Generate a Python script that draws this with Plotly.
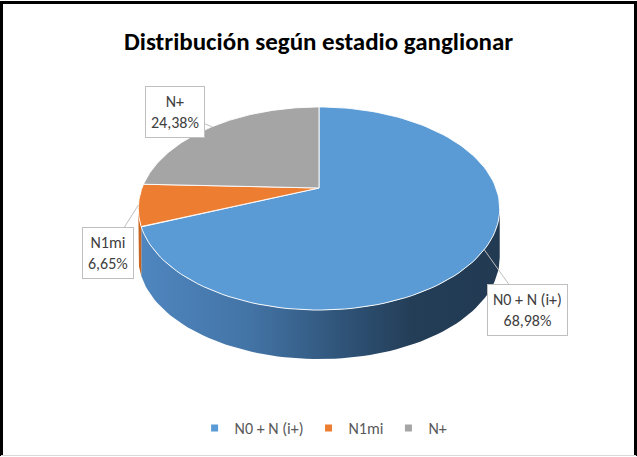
import numpy as np
import plotly.graph_objects as go

# ---- data ----
categories = ["N0 + N (i+)", "N1mi", "N+"]
values = [68.98, 6.65, 24.38]
label_texts = ["68,98%", "6,65%", "24,38%"]
colors = ["#5b9bd5", "#ed7d31", "#a5a5a5"]
title_text = "Distribución según estadio ganglionar"

# ---- geometry (pixel space, perspective ellipse) ----
W, H = 637, 457
cx, cy = 319.0, 188.0
rx, ry = 177.0, 97.4
k = 0.202
depth = 49.0

def proj(theta_deg, dy=0.0):
    t = np.radians(theta_deg)
    u = np.sin(t)
    v = -np.cos(t)
    den = 1 - k * v
    return cx + rx * u / den, cy + ry * v / den + dy

total = sum(values)
bounds = [0.0]
for val in values:
    bounds.append(bounds[-1] + 360.0 * val / total)

th_right = np.degrees(np.arccos(-k))          # right tangent
th_left = 360.0 - th_right                     # left tangent

fig = go.Figure()

FONT = "Carlito, 'Liberation Sans Narrow', 'Open Sans', sans-serif"

# ---- side walls ----
def side_trace(a0, a1, **kw):
    th = np.linspace(a0, a1, 80)
    xt, yt = proj(th)
    xb, yb = proj(th[::-1], depth)
    xs = np.concatenate([xt, xb, xt[:1]])
    ys = np.concatenate([yt, yb, yt[:1]])
    return go.Scatter(x=xs, y=ys, mode="lines", fill="toself",
                      line=dict(width=0, color="rgba(0,0,0,0)"),
                      hoverinfo="skip", showlegend=False, **kw)

a0 = max(bounds[0], th_right)
a1 = min(bounds[1], th_left)
fig.add_trace(side_trace(a0, a1, fillgradient=dict(
    type="horizontal",
    colorscale=[[0, "#4f86bf"], [0.3, "#4374a6"], [0.55, "#30557a"],
                [0.75, "#243e58"], [1, "#223a52"]])))
fig.add_trace(side_trace(bounds[1], min(bounds[2], th_left), fillcolor="#c8641f"))

# ---- top faces ----
for i, name in enumerate(categories):
    th = np.linspace(bounds[i], bounds[i + 1], 120)
    xa, ya = proj(th)
    xs = np.concatenate([[cx], xa, [cx]])
    ys = np.concatenate([[cy], ya, [cy]])
    fig.add_trace(go.Scatter(x=xs, y=ys, mode="lines", fill="toself",
                             fillcolor=colors[i],
                             line=dict(color="rgba(255,255,255,0.9)", width=1),
                             hoverinfo="skip", showlegend=False))

# ---- legend entries ----
for i, name in enumerate(categories):
    fig.add_trace(go.Scatter(x=[None], y=[None], mode="markers", name=name,
                             marker=dict(symbol="square", size=7, color=colors[i])))

# ---- data labels (callouts) ----
box_pos = [(527, 310), (108, 253), (175, 112)]
for i, name in enumerate(categories):
    mid = (bounds[i] + bounds[i + 1]) / 2
    px, py = proj(mid)
    bx, by = box_pos[i]
    fig.add_annotation(x=px, y=py, ax=bx, ay=by, axref="x", ayref="y",
                       xref="x", yref="y",
                       text=f"{name}<br>{label_texts[i]}",
                       showarrow=True, arrowhead=0, arrowwidth=1,
                       arrowcolor="#bfbfbf", standoff=0,
                       bgcolor="white", bordercolor="#bfbfbf", borderwidth=1,
                       borderpad=5,
                       font=dict(family=FONT, size=16, color="#404040"))

# ---- title ----
fig.add_annotation(x=W / 2, y=41, xref="x", yref="y", showarrow=False,
                   text="<b>" + title_text + "</b>",
                   font=dict(family=FONT, size=25, color="#000000"))

# ---- frame (paper coords) ----
def px_x(v):
    return v / W
def px_y(v):
    return 1 - v / H
fig.add_shape(type="path",
              path=f"M {px_x(1.5)},{px_y(456)} L {px_x(1.5)},{px_y(2.5)} "
                   f"L {px_x(635.5)},{px_y(2.5)} L {px_x(635.5)},{px_y(456)}",
              xref="paper", yref="paper", line=dict(color="black", width=3),
              layer="above")
fig.add_shape(type="line", x0=px_x(1), y0=px_y(455.5), x1=px_x(636), y1=px_y(455.5),
              xref="paper", yref="paper", line=dict(color="#d9d9d9", width=1))

fig.update_layout(
    width=W, height=H, autosize=False,
    margin=dict(l=0, r=0, t=0, b=0),
    paper_bgcolor="white", plot_bgcolor="white",
    xaxis=dict(range=[0, W], visible=False, fixedrange=True),
    yaxis=dict(range=[H, 0], visible=False, fixedrange=True),
    showlegend=True,
    legend=dict(orientation="h", x=0.508, xanchor="center", y=1 - 428 / H,
                yanchor="middle", font=dict(family=FONT, size=16, color="#595959"),
                itemwidth=30, bgcolor="rgba(0,0,0,0)"),
)

fig.write_html("out.html", config={"displayModeBar": False},
               post_script="document.body.style.margin='0';document.body.style.overflow='hidden';")
